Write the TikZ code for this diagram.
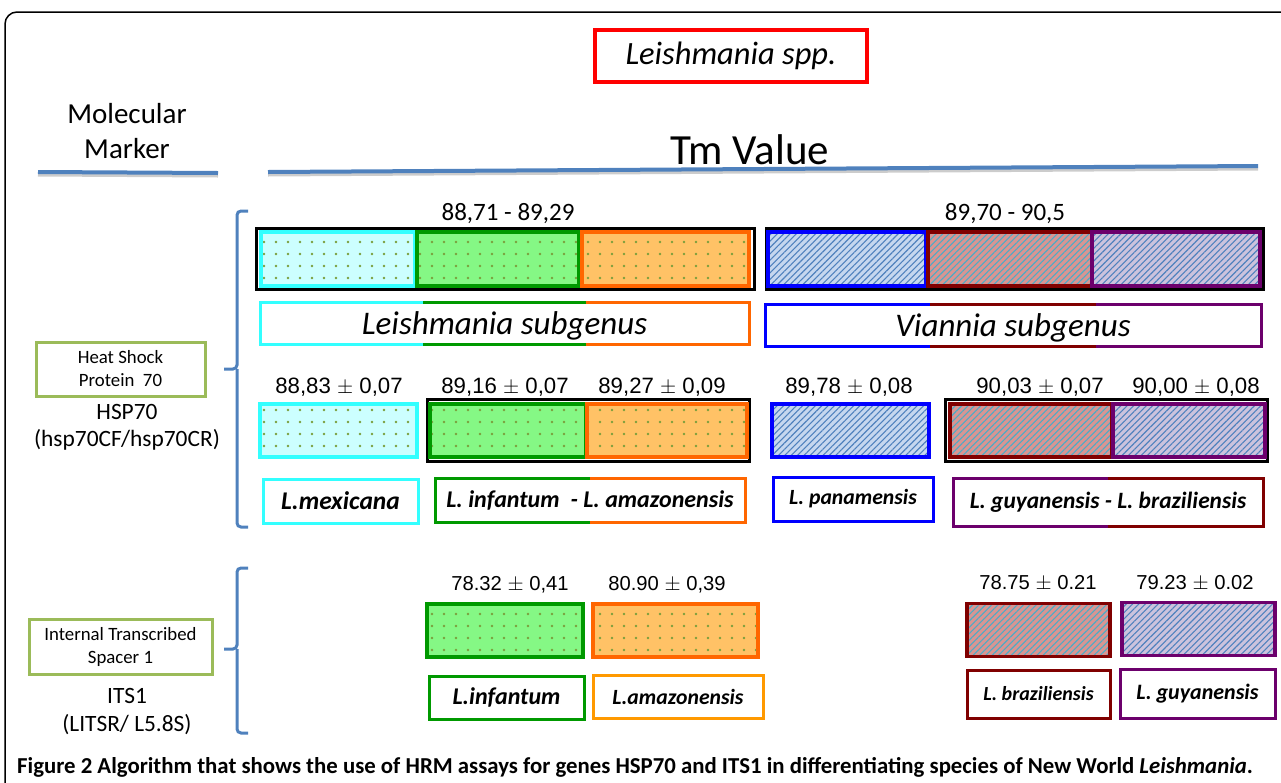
\documentclass[tikz,border=0pt]{standalone}
\usepackage{fontspec}
\setmainfont{Carlito}
\newfontfamily\arialf{Liberation Sans}
\usetikzlibrary{calc,patterns.meta}

\definecolor{CyanB}{HTML}{33FFFF}
\definecolor{CyanF}{HTML}{CCFFFF}
\definecolor{GreenB}{HTML}{009900}
\definecolor{GreenF}{HTML}{85F885}
\definecolor{OrangeB}{HTML}{FF6600}
\definecolor{OrangeF}{HTML}{FFC266}
\definecolor{AmberB}{HTML}{FF9900}
\definecolor{BlueB}{HTML}{0000FF}
\definecolor{BlueF}{HTML}{C6D7EF}
\definecolor{RedB}{HTML}{800000}
\definecolor{RedF}{HTML}{D99592}
\definecolor{PurpB}{HTML}{6C006C}
\definecolor{PurpF}{HTML}{CCC3DD}
\definecolor{MarkB}{HTML}{9BBB59}
\definecolor{DotC}{HTML}{7A9E3C}
\definecolor{LineB}{HTML}{4F81BD}
\definecolor{HatchA}{HTML}{4F81BD}
\definecolor{HatchB}{HTML}{4BACC6}

\tikzset{
  bx/.style 2 args={minimum width=#1pt, minimum height=#2pt, inner sep=0pt, outer sep=0pt},
  blackbox/.style={draw=black, line width=3pt},
  dotted box/.style 2 args={draw=#1, line width=3.5pt, preaction={fill=#2},
    pattern={Dots[distance=12pt, radius=1.3pt]}, pattern color=DotC},
  hatched box/.style n args={3}{draw=#1, line width=3.5pt, preaction={fill=#2},
    pattern={Lines[angle=45, distance=4.5pt, line width=1.1pt]}, pattern color=#3},
  mex/.style={dotted box={CyanB}{CyanF}},
  inf/.style={dotted box={GreenB}{GreenF}},
  ama/.style={dotted box={OrangeB}{OrangeF}},
  pan/.style={hatched box={BlueB}{BlueF}{HatchA}},
  bra/.style={hatched box={RedB}{RedF}{HatchB}},
  guy/.style={hatched box={PurpB}{PurpF}{HatchA}},
  tmval/.style={font=\arialf\fontsize{22.2}{26}\selectfont},
  itsval/.style={font=\arialf\fontsize{20.2}{24}\selectfont},
  rangetxt/.style={font=\fontsize{25}{29}\selectfont},
  spname/.style={fill=white, line width=3pt, font=\bfseries\itshape\fontsize{24}{28}\selectfont},
  subg/.style={fill=white, text depth=0pt, font=\itshape\fontsize{33}{37}\selectfont},
  seg/.style={line width=3pt},
  markerbox/.style={draw=MarkB, line width=3pt, align=center, font=\fontsize{18.8}{23}\selectfont},
  bluerule/.style={draw=LineB, line width=4pt},
  brace/.style={draw=LineB, line width=3pt, rounded corners=4pt},
}

\begin{document}
\begin{tikzpicture}[x=1pt, y=-1pt]
	\useasboundingbox (0,0) rectangle (1281,782);

	% outer frame
	\draw[line width=1.5pt, rounded corners=12pt] (1285,12) -- (5,12) -- (5,790);

	% headings
	\node[draw=red, line width=3.5pt, bx={272}{52}, font=\itshape\fontsize{32.5}{37}\selectfont] (spp) at (731,56) {Leishmania spp.};
	\node[align=center, font=\fontsize{29}{35}\selectfont] (marker) at (127,131) {Molecular\\Marker};
	\node[font=\fontsize{43}{47}\selectfont] (tm) at (750,150) {Tm Value};
	\draw[gray!40, line width=3pt] (38,175) -- (218,176);
	\draw[bluerule] (38,172) -- (218,173);
	\draw[gray!40, line width=3pt] (268,175) -- (1258,169);
	\draw[bluerule] (268,172) -- (1258,166);

	% HSP70: marker and brace
	\node[markerbox, bx={169}{54}] (hspbox) at (120.5,369) {Heat Shock\\Protein~ 70};
	\node[align=center, font=\fontsize{23.4}{27}\selectfont] (hsp) at (127,427) {HSP70\\(hsp70CF/hsp70CR)};
	\draw[brace] (248,211) -- (237,211) -- (237,369) -- (224,369);
	\draw[brace] (237,369) -- (237,527) -- (248,527);

	% HSP70: subgenus ranges
	\node[blackbox, bx={498}{61}] (lrange) at (505,258.5) {};
	\node[blackbox, bx={497}{61}] (vrange) at (1014.5,258.5) {};
	\node[rangetxt] (lrangelbl) at (508,214) {88,71 - 89,29};
	\node[rangetxt] (vrangelbl) at (1005,214) {89,70 - 90,5};
	\node[mex, bx={154}{54}] (r1mex) at (338,259) {};
	\node[inf, bx={162}{54}] (r1inf) at (498,259) {};
	\node[ama, bx={167}{54}] (r1ama) at (665.5,259) {};
	\node[pan, bx={158}{54}] (r1pan) at (847,259) {};
	\node[bra, bx={164}{54}] (r1bra) at (1010,259) {};
	\node[guy, bx={168}{54}] (r1guy) at (1176,259) {};

	% subgenus names
	\node[subg, bx={489}{42}] (lsub) at (504.5,323) {Leishmania subgenus};
	\draw[seg, CyanB] ($(lsub.north west)!1/3!(lsub.north east)$) -- (lsub.north west) -- (lsub.south west) -- ($(lsub.south west)!1/3!(lsub.south east)$);
	\draw[seg, GreenB] ($(lsub.north west)!1/3!(lsub.north east)$) -- ($(lsub.north west)!2/3!(lsub.north east)$);
	\draw[seg, GreenB] ($(lsub.south west)!1/3!(lsub.south east)$) -- ($(lsub.south west)!2/3!(lsub.south east)$);
	\draw[seg, OrangeB] ($(lsub.north west)!2/3!(lsub.north east)$) -- (lsub.north east) -- (lsub.south east) -- ($(lsub.south west)!2/3!(lsub.south east)$);
	\node[subg, bx={496}{42}] (vsub) at (1013,325) {Viannia subgenus};
	\draw[seg, BlueB] ($(vsub.north west)!1/3!(vsub.north east)$) -- (vsub.north west) -- (vsub.south west) -- ($(vsub.south west)!1/3!(vsub.south east)$);
	\draw[seg, RedB] ($(vsub.north west)!1/3!(vsub.north east)$) -- ($(vsub.north west)!2/3!(vsub.north east)$);
	\draw[seg, RedB] ($(vsub.south west)!1/3!(vsub.south east)$) -- ($(vsub.south west)!2/3!(vsub.south east)$);
	\draw[seg, PurpB] ($(vsub.north west)!2/3!(vsub.north east)$) -- (vsub.north east) -- (vsub.south east) -- ($(vsub.south west)!2/3!(vsub.south east)$);

	% HSP70: species values
	\node[tmval] (v1) at (339,387) {88,83 $\pm$ 0,07};
	\node[tmval] (v2) at (505,387) {89,16 $\pm$ 0,07};
	\node[tmval] (v3) at (662,387) {89,27 $\pm$ 0,09};
	\node[tmval] (v4) at (849,387) {89,78 $\pm$ 0,08};
	\node[tmval] (v5) at (1040,387) {90,03 $\pm$ 0,07};
	\node[tmval] (v6) at (1196,387) {90,00 $\pm$ 0,08};
	\node[blackbox, bx={322}{62}] (lpair) at (588,430) {};
	\node[blackbox, bx={322}{62}] (vpair) at (1106,430) {};
	\node[mex, bx={157}{53}] (r2mex) at (338.5,430.5) {};
	\node[inf, bx={156}{53}] (r2inf) at (508,430.5) {};
	\node[ama, bx={160}{53}] (r2ama) at (667,430.5) {};
	\node[pan, bx={157}{53}] (r2pan) at (850.5,430.5) {};
	\node[bra, bx={162}{53}] (r2bra) at (1031,430.5) {};
	\node[guy, bx={152}{53}] (r2guy) at (1189,430.5) {};

	% HSP70: species names
	\node[spname, draw=CyanB, bx={155}{44}, font=\bfseries\itshape\fontsize{25.5}{29}\selectfont] (nmex) at (340.5,501) {L.mexicana};
	\node[spname, bx={310}{44}] (ninfama) at (590,500) {L. infantum~ - L. amazonensis};
	\draw[seg, GreenB] (ninfama.north) -- (ninfama.north west) -- (ninfama.south west) -- (ninfama.south);
	\draw[seg, OrangeB] (ninfama.north) -- (ninfama.north east) -- (ninfama.south east) -- (ninfama.south);
	\node[spname, draw=BlueB, bx={160}{44}, font=\bfseries\itshape\fontsize{21.7}{25}\selectfont] (npan) at (853,499) {L. panamensis};
	\node[spname, bx={310}{48}, font=\bfseries\itshape\fontsize{23.4}{27}\selectfont] (nguybra) at (1108,502) {L. guyanensis - L. braziliensis};
	\draw[seg, PurpB] (nguybra.north) -- (nguybra.north west) -- (nguybra.south west) -- (nguybra.south);
	\draw[seg, RedB] (nguybra.north) -- (nguybra.north east) -- (nguybra.south east) -- (nguybra.south);

	% ITS1: marker and brace
	\node[markerbox, bx={183}{55}] (itsbox) at (120.5,646.5) {Internal Transcribed\\Spacer 1};
	\node[align=center, font=\fontsize{23.4}{28}\selectfont] (its) at (127,712) {ITS1\\(LITSR/ L5.8S)};
	\draw[brace] (248,568) -- (237,568) -- (237,649) -- (224,649);
	\draw[brace] (237,649) -- (237,733) -- (248,733);

	% ITS1: species
	\node[itsval] (w1) at (510,585) {78.32 $\pm$ 0,41};
	\node[itsval] (w2) at (667,585) {80.90 $\pm$ 0,39};
	\node[itsval] (w3) at (1038,583) {78.75 $\pm$ 0.21};
	\node[itsval] (w4) at (1195,583) {79.23 $\pm$ 0.02};
	\node[inf, bx={156}{53}] (iinf) at (505,630.5) {};
	\node[ama, bx={165}{53}] (iama) at (675.5,630.5) {};
	\node[bra, bx={143}{53}] (ibra) at (1038.5,630) {};
	\node[guy, bx={153}{53}] (iguy) at (1198.5,629) {};
	\node[spname, draw=GreenB, bx={155}{43}] (ninf) at (506.5,697.5) {L.infantum};
	\node[spname, draw=AmberB, bx={170}{43}, font=\bfseries\itshape\fontsize{21.7}{25}\selectfont] (nama) at (678,696.5) {L.amazonensis};
	\node[spname, draw=RedB, bx={143}{48}, font=\bfseries\itshape\fontsize{20}{24}\selectfont] (nbra) at (1038.5,694) {L. braziliensis};
	\node[spname, draw=PurpB, bx={155}{49}, font=\bfseries\itshape\fontsize{22}{26}\selectfont] (nguy) at (1197.5,693.5) {L. guyanensis};

	% caption
	\node[anchor=west, inner sep=0pt, font=\bfseries\fontsize{22.8}{26}\selectfont] (caption) at (17,767) {Figure 2 Algorithm that shows the use of HRM assays for genes HSP70 and ITS1 in differentiating species of New World \textit{Leishmania}.};

\end{tikzpicture}
\end{document}
